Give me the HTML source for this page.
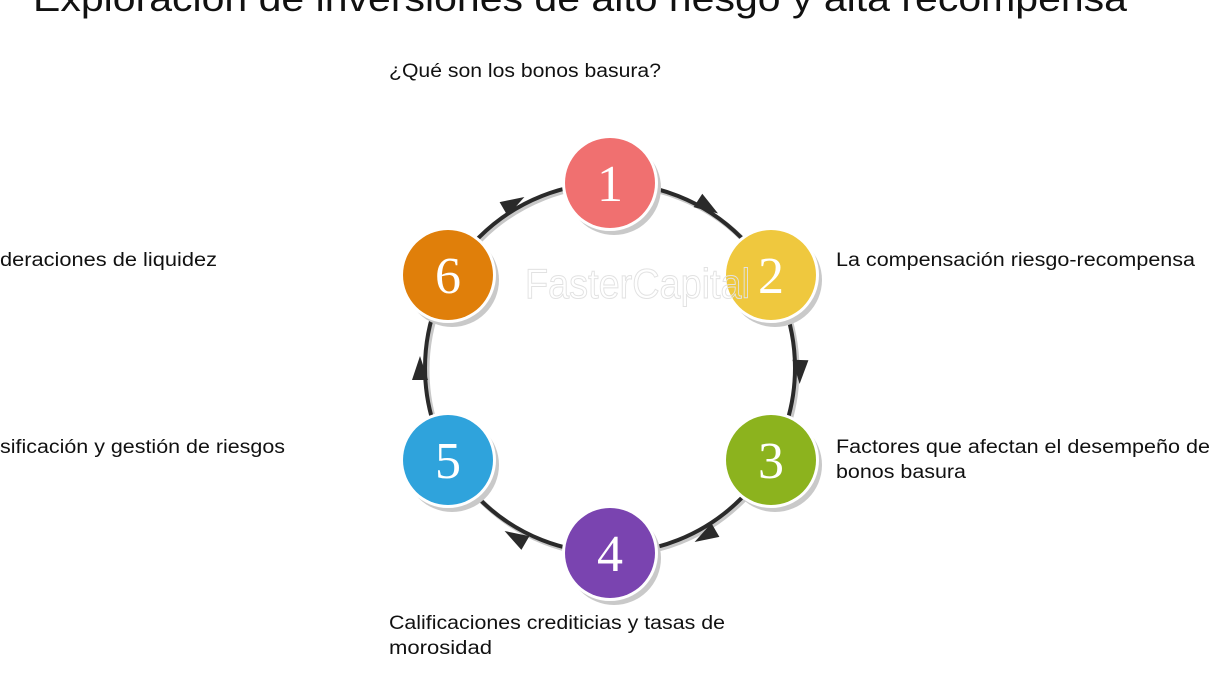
<!DOCTYPE html>
<html><head><meta charset="utf-8"><style>
html,body{margin:0;padding:0;background:#fff;}
svg{display:block;}
</style></head><body>
<svg width="1215" height="683" viewBox="0 0 1215 683" xmlns="http://www.w3.org/2000/svg">
<defs>
<polygon id="ar" points="-12,-8 12,0 -12,8" fill="#2a2a2a"/>
</defs>
<text x="33" y="11" font-family="Liberation Sans, Arial, sans-serif" font-size="37" fill="#111" textLength="1094" lengthAdjust="spacingAndGlyphs">Exploración de inversiones de alto riesgo y alta recompensa</text>
<circle cx="612" cy="370" r="185" fill="none" stroke="#c8c8c8" stroke-width="5"/>
<circle cx="610" cy="368" r="185" fill="none" stroke="#2a2a2a" stroke-width="4"/>
<g>
<use href="#ar" transform="translate(708,207) rotate(33)"/>
<use href="#ar" transform="translate(800,372) rotate(92)"/>
<use href="#ar" transform="translate(705,536) rotate(150)"/>
<use href="#ar" transform="translate(515,537) rotate(210)"/>
<use href="#ar" transform="translate(420,368) rotate(-90)"/>
<use href="#ar" transform="translate(514,203) rotate(-30)"/>
</g>
<g font-family="Liberation Serif, DejaVu Serif, serif" font-size="52" fill="#fff" text-anchor="middle">
<circle cx="614" cy="188" r="47" fill="#c9c9c9"/><circle cx="610" cy="183" r="48" fill="#fff"/><circle cx="610" cy="183" r="45" fill="#f07070"/><text x="610" y="201">1</text>
<circle cx="775" cy="280" r="47" fill="#c9c9c9"/><circle cx="771" cy="275" r="48" fill="#fff"/><circle cx="771" cy="275" r="45" fill="#efc83e"/><text x="771" y="293">2</text>
<circle cx="775" cy="465" r="47" fill="#c9c9c9"/><circle cx="771" cy="460" r="48" fill="#fff"/><circle cx="771" cy="460" r="45" fill="#8cb31e"/><text x="771" y="478">3</text>
<circle cx="614" cy="558" r="47" fill="#c9c9c9"/><circle cx="610" cy="553" r="48" fill="#fff"/><circle cx="610" cy="553" r="45" fill="#7a44b0"/><text x="610" y="571">4</text>
<circle cx="452" cy="465" r="47" fill="#c9c9c9"/><circle cx="448" cy="460" r="48" fill="#fff"/><circle cx="448" cy="460" r="45" fill="#2fa3dc"/><text x="448" y="478">5</text>
<circle cx="452" cy="280" r="47" fill="#c9c9c9"/><circle cx="448" cy="275" r="48" fill="#fff"/><circle cx="448" cy="275" r="45" fill="#e07f0a"/><text x="448" y="293">6</text>
</g>
<text x="525" y="298" font-family="Liberation Sans, sans-serif" font-size="42" fill="none" stroke="#e2e2e2" stroke-width="1" textLength="225" lengthAdjust="spacingAndGlyphs">FasterCapital</text>
<g font-family="Liberation Sans, Carlito, sans-serif" font-size="19" fill="#111" lengthAdjust="spacingAndGlyphs">
<text x="389" y="77" textLength="272" lengthAdjust="spacingAndGlyphs">¿Qué son los bonos basura?</text>
<text x="836" y="266" textLength="359" lengthAdjust="spacingAndGlyphs">La compensación riesgo-recompensa</text>
<text x="836" y="453" textLength="374" lengthAdjust="spacingAndGlyphs">Factores que afectan el desempeño de</text>
<text x="836" y="478" textLength="130" lengthAdjust="spacingAndGlyphs">bonos basura</text>
<text x="389" y="629" textLength="336" lengthAdjust="spacingAndGlyphs">Calificaciones crediticias y tasas de</text>
<text x="389" y="654" textLength="103" lengthAdjust="spacingAndGlyphs">morosidad</text>
<text x="0" y="453" textLength="285" lengthAdjust="spacingAndGlyphs">sificación y gestión de riesgos</text>
<text x="0" y="266" textLength="217" lengthAdjust="spacingAndGlyphs">deraciones de liquidez</text>
</g>
</svg>
</body></html>
